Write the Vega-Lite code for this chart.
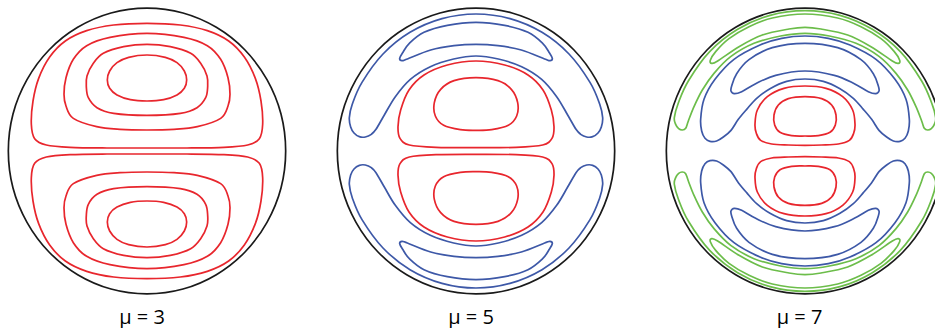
{
"$schema": "https://vega.github.io/schema/vega-lite/v6.json",
"padding": 0,
"background": "white",
"spacing": 35,
"datasets": {
"m3": [
{"c":"O","k":"o","x":416,"y":0},{"c":"O","k":"o","x":402,"y":111},{"c":"O","k":"o","x":360,"y":214},{"c":"O","k":"o","x":294,"y":303},{"c":"O","k":"o","x":208,"y":371},{"c":"O","k":"o","x":108,"y":414},{"c":"O","k":"o","x":0,"y":428.5},{"c":"O","k":"o","x":-108,"y":414},{"c":"O","k":"o","x":-208,"y":371},{"c":"O","k":"o","x":-294,"y":303},{"c":"O","k":"o","x":-360,"y":214},{"c":"O","k":"o","x":-402,"y":111},{"c":"O","k":"o","x":-416,"y":0},{"c":"O","k":"o","x":-402,"y":-111},{"c":"O","k":"o","x":-360,"y":-214},{"c":"O","k":"o","x":-294,"y":-303},{"c":"O","k":"o","x":-208,"y":-371},{"c":"O","k":"o","x":-108,"y":-414},{"c":"O","k":"o","x":0,"y":-428.5},{"c":"O","k":"o","x":108,"y":-414},{"c":"O","k":"o","x":208,"y":-371},{"c":"O","k":"o","x":294,"y":-303},{"c":"O","k":"o","x":360,"y":-214},{"c":"O","k":"o","x":402,"y":-111},
{"c":"A1","k":"r","x":0,"y":383},{"c":"A1","k":"r","x":-100,"y":378},{"c":"A1","k":"r","x":-181,"y":361},{"c":"A1","k":"r","x":-245,"y":330},{"c":"A1","k":"r","x":-292,"y":282},{"c":"A1","k":"r","x":-325,"y":218},{"c":"A1","k":"r","x":-342,"y":150},{"c":"A1","k":"r","x":-347,"y":80},{"c":"A1","k":"r","x":-337,"y":37},{"c":"A1","k":"r","x":-302,"y":18},{"c":"A1","k":"r","x":-231,"y":11},{"c":"A1","k":"r","x":-120,"y":9},{"c":"A1","k":"r","x":0,"y":9},{"c":"A1","k":"r","x":120,"y":9},{"c":"A1","k":"r","x":231,"y":11},{"c":"A1","k":"r","x":302,"y":18},{"c":"A1","k":"r","x":337,"y":37},{"c":"A1","k":"r","x":347,"y":80},{"c":"A1","k":"r","x":342,"y":150},{"c":"A1","k":"r","x":325,"y":218},{"c":"A1","k":"r","x":292,"y":282},{"c":"A1","k":"r","x":245,"y":330},{"c":"A1","k":"r","x":181,"y":361},{"c":"A1","k":"r","x":100,"y":378},
{"c":"A2","k":"r","x":0,"y":-383},{"c":"A2","k":"r","x":-100,"y":-378},{"c":"A2","k":"r","x":-181,"y":-361},{"c":"A2","k":"r","x":-245,"y":-330},{"c":"A2","k":"r","x":-292,"y":-282},{"c":"A2","k":"r","x":-325,"y":-218},{"c":"A2","k":"r","x":-342,"y":-150},{"c":"A2","k":"r","x":-347,"y":-80},{"c":"A2","k":"r","x":-337,"y":-37},{"c":"A2","k":"r","x":-302,"y":-18},{"c":"A2","k":"r","x":-231,"y":-11},{"c":"A2","k":"r","x":-120,"y":-9},{"c":"A2","k":"r","x":0,"y":-9},{"c":"A2","k":"r","x":120,"y":-9},{"c":"A2","k":"r","x":231,"y":-11},{"c":"A2","k":"r","x":302,"y":-18},{"c":"A2","k":"r","x":337,"y":-37},{"c":"A2","k":"r","x":347,"y":-80},{"c":"A2","k":"r","x":342,"y":-150},{"c":"A2","k":"r","x":325,"y":-218},{"c":"A2","k":"r","x":292,"y":-282},{"c":"A2","k":"r","x":245,"y":-330},{"c":"A2","k":"r","x":181,"y":-361},{"c":"A2","k":"r","x":100,"y":-378},
{"c":"B1","k":"r","x":0,"y":353},{"c":"B1","k":"r","x":-111,"y":341},{"c":"B1","k":"r","x":-181,"y":316},{"c":"B1","k":"r","x":-221,"y":275},{"c":"B1","k":"r","x":-243,"y":220},{"c":"B1","k":"r","x":-249,"y":170},{"c":"B1","k":"r","x":-243,"y":135},{"c":"B1","k":"r","x":-221,"y":98},{"c":"B1","k":"r","x":-151,"y":73},{"c":"B1","k":"r","x":-81,"y":65},{"c":"B1","k":"r","x":0,"y":63},{"c":"B1","k":"r","x":81,"y":65},{"c":"B1","k":"r","x":151,"y":73},{"c":"B1","k":"r","x":221,"y":98},{"c":"B1","k":"r","x":243,"y":135},{"c":"B1","k":"r","x":249,"y":170},{"c":"B1","k":"r","x":243,"y":220},{"c":"B1","k":"r","x":221,"y":275},{"c":"B1","k":"r","x":181,"y":316},{"c":"B1","k":"r","x":111,"y":341},
{"c":"B2","k":"r","x":0,"y":-353},{"c":"B2","k":"r","x":-111,"y":-341},{"c":"B2","k":"r","x":-181,"y":-316},{"c":"B2","k":"r","x":-221,"y":-275},{"c":"B2","k":"r","x":-243,"y":-220},{"c":"B2","k":"r","x":-249,"y":-170},{"c":"B2","k":"r","x":-243,"y":-135},{"c":"B2","k":"r","x":-221,"y":-98},{"c":"B2","k":"r","x":-151,"y":-73},{"c":"B2","k":"r","x":-81,"y":-65},{"c":"B2","k":"r","x":0,"y":-63},{"c":"B2","k":"r","x":81,"y":-65},{"c":"B2","k":"r","x":151,"y":-73},{"c":"B2","k":"r","x":221,"y":-98},{"c":"B2","k":"r","x":243,"y":-135},{"c":"B2","k":"r","x":249,"y":-170},{"c":"B2","k":"r","x":243,"y":-220},{"c":"B2","k":"r","x":221,"y":-275},{"c":"B2","k":"r","x":181,"y":-316},{"c":"B2","k":"r","x":111,"y":-341},
{"c":"C1","k":"r","x":0,"y":320},{"c":"C1","k":"r","x":-70,"y":313},{"c":"C1","k":"r","x":-131,"y":293},{"c":"C1","k":"r","x":-161,"y":263},{"c":"C1","k":"r","x":-180,"y":225},{"c":"C1","k":"r","x":-182,"y":193},{"c":"C1","k":"r","x":-176,"y":160},{"c":"C1","k":"r","x":-150,"y":130},{"c":"C1","k":"r","x":-100,"y":113},{"c":"C1","k":"r","x":0,"y":107},{"c":"C1","k":"r","x":100,"y":113},{"c":"C1","k":"r","x":150,"y":130},{"c":"C1","k":"r","x":176,"y":160},{"c":"C1","k":"r","x":182,"y":193},{"c":"C1","k":"r","x":180,"y":225},{"c":"C1","k":"r","x":161,"y":263},{"c":"C1","k":"r","x":131,"y":293},{"c":"C1","k":"r","x":70,"y":313},
{"c":"C2","k":"r","x":0,"y":-320},{"c":"C2","k":"r","x":-70,"y":-313},{"c":"C2","k":"r","x":-131,"y":-293},{"c":"C2","k":"r","x":-161,"y":-263},{"c":"C2","k":"r","x":-180,"y":-225},{"c":"C2","k":"r","x":-182,"y":-193},{"c":"C2","k":"r","x":-176,"y":-160},{"c":"C2","k":"r","x":-150,"y":-130},{"c":"C2","k":"r","x":-100,"y":-113},{"c":"C2","k":"r","x":0,"y":-107},{"c":"C2","k":"r","x":100,"y":-113},{"c":"C2","k":"r","x":150,"y":-130},{"c":"C2","k":"r","x":176,"y":-160},{"c":"C2","k":"r","x":182,"y":-193},{"c":"C2","k":"r","x":180,"y":-225},{"c":"C2","k":"r","x":161,"y":-263},{"c":"C2","k":"r","x":131,"y":-293},{"c":"C2","k":"r","x":70,"y":-313},
{"c":"D1","k":"r","x":0,"y":288},{"c":"D1","k":"r","x":-55,"y":281},{"c":"D1","k":"r","x":-90,"y":265},{"c":"D1","k":"r","x":-112,"y":240},{"c":"D1","k":"r","x":-119,"y":213},{"c":"D1","k":"r","x":-112,"y":188},{"c":"D1","k":"r","x":-90,"y":168},{"c":"D1","k":"r","x":-50,"y":154},{"c":"D1","k":"r","x":0,"y":150},{"c":"D1","k":"r","x":50,"y":154},{"c":"D1","k":"r","x":90,"y":168},{"c":"D1","k":"r","x":112,"y":188},{"c":"D1","k":"r","x":119,"y":213},{"c":"D1","k":"r","x":112,"y":240},{"c":"D1","k":"r","x":90,"y":265},{"c":"D1","k":"r","x":55,"y":281},
{"c":"D2","k":"r","x":0,"y":-288},{"c":"D2","k":"r","x":-55,"y":-281},{"c":"D2","k":"r","x":-90,"y":-265},{"c":"D2","k":"r","x":-112,"y":-240},{"c":"D2","k":"r","x":-119,"y":-213},{"c":"D2","k":"r","x":-112,"y":-188},{"c":"D2","k":"r","x":-90,"y":-168},{"c":"D2","k":"r","x":-50,"y":-154},{"c":"D2","k":"r","x":0,"y":-150},{"c":"D2","k":"r","x":50,"y":-154},{"c":"D2","k":"r","x":90,"y":-168},{"c":"D2","k":"r","x":112,"y":-188},{"c":"D2","k":"r","x":119,"y":-213},{"c":"D2","k":"r","x":112,"y":-240},{"c":"D2","k":"r","x":90,"y":-265},{"c":"D2","k":"r","x":55,"y":-281}
],
"m5": [
{"c":"O","k":"o","x":416,"y":0},{"c":"O","k":"o","x":402,"y":111},{"c":"O","k":"o","x":360,"y":214},{"c":"O","k":"o","x":294,"y":303},{"c":"O","k":"o","x":208,"y":371},{"c":"O","k":"o","x":108,"y":414},{"c":"O","k":"o","x":0,"y":428.5},{"c":"O","k":"o","x":-108,"y":414},{"c":"O","k":"o","x":-208,"y":371},{"c":"O","k":"o","x":-294,"y":303},{"c":"O","k":"o","x":-360,"y":214},{"c":"O","k":"o","x":-402,"y":111},{"c":"O","k":"o","x":-416,"y":0},{"c":"O","k":"o","x":-402,"y":-111},{"c":"O","k":"o","x":-360,"y":-214},{"c":"O","k":"o","x":-294,"y":-303},{"c":"O","k":"o","x":-208,"y":-371},{"c":"O","k":"o","x":-108,"y":-414},{"c":"O","k":"o","x":0,"y":-428.5},{"c":"O","k":"o","x":108,"y":-414},{"c":"O","k":"o","x":208,"y":-371},{"c":"O","k":"o","x":294,"y":-303},{"c":"O","k":"o","x":360,"y":-214},{"c":"O","k":"o","x":402,"y":-111},
{"c":"R1","k":"r","x":0,"y":270},{"c":"R1","k":"r","x":-86,"y":258},{"c":"R1","k":"r","x":-156,"y":228},{"c":"R1","k":"r","x":-201,"y":183},{"c":"R1","k":"r","x":-226,"y":123},{"c":"R1","k":"r","x":-234,"y":73},{"c":"R1","k":"r","x":-228,"y":38},{"c":"R1","k":"r","x":-200,"y":18},{"c":"R1","k":"r","x":-120,"y":11},{"c":"R1","k":"r","x":0,"y":10},{"c":"R1","k":"r","x":120,"y":11},{"c":"R1","k":"r","x":200,"y":18},{"c":"R1","k":"r","x":228,"y":38},{"c":"R1","k":"r","x":234,"y":73},{"c":"R1","k":"r","x":226,"y":123},{"c":"R1","k":"r","x":201,"y":183},{"c":"R1","k":"r","x":156,"y":228},{"c":"R1","k":"r","x":86,"y":258},
{"c":"R2","k":"r","x":0,"y":-270},{"c":"R2","k":"r","x":-86,"y":-258},{"c":"R2","k":"r","x":-156,"y":-228},{"c":"R2","k":"r","x":-201,"y":-183},{"c":"R2","k":"r","x":-226,"y":-123},{"c":"R2","k":"r","x":-234,"y":-73},{"c":"R2","k":"r","x":-228,"y":-38},{"c":"R2","k":"r","x":-200,"y":-18},{"c":"R2","k":"r","x":-120,"y":-11},{"c":"R2","k":"r","x":0,"y":-10},{"c":"R2","k":"r","x":120,"y":-11},{"c":"R2","k":"r","x":200,"y":-18},{"c":"R2","k":"r","x":228,"y":-38},{"c":"R2","k":"r","x":234,"y":-73},{"c":"R2","k":"r","x":226,"y":-123},{"c":"R2","k":"r","x":201,"y":-183},{"c":"R2","k":"r","x":156,"y":-228},{"c":"R2","k":"r","x":86,"y":-258},
{"c":"S1","k":"r","x":0,"y":220},{"c":"S1","k":"r","x":-66,"y":211},{"c":"S1","k":"r","x":-106,"y":185},{"c":"S1","k":"r","x":-125,"y":145},{"c":"S1","k":"r","x":-122,"y":105},{"c":"S1","k":"r","x":-97,"y":77},{"c":"S1","k":"r","x":-47,"y":64},{"c":"S1","k":"r","x":0,"y":62},{"c":"S1","k":"r","x":47,"y":64},{"c":"S1","k":"r","x":97,"y":77},{"c":"S1","k":"r","x":122,"y":105},{"c":"S1","k":"r","x":125,"y":145},{"c":"S1","k":"r","x":106,"y":185},{"c":"S1","k":"r","x":66,"y":211},
{"c":"S2","k":"r","x":0,"y":-220},{"c":"S2","k":"r","x":-66,"y":-211},{"c":"S2","k":"r","x":-106,"y":-185},{"c":"S2","k":"r","x":-125,"y":-145},{"c":"S2","k":"r","x":-122,"y":-105},{"c":"S2","k":"r","x":-97,"y":-77},{"c":"S2","k":"r","x":-47,"y":-64},{"c":"S2","k":"r","x":0,"y":-62},{"c":"S2","k":"r","x":47,"y":-64},{"c":"S2","k":"r","x":97,"y":-77},{"c":"S2","k":"r","x":122,"y":-105},{"c":"S2","k":"r","x":125,"y":-145},{"c":"S2","k":"r","x":106,"y":-185},{"c":"S2","k":"r","x":66,"y":-211},
{"c":"K1","k":"b","x":0,"y":386},{"c":"K1","k":"b","x":-86,"y":377},{"c":"K1","k":"b","x":-156,"y":356},{"c":"K1","k":"b","x":-200,"y":323},{"c":"K1","k":"b","x":-220,"y":295},{"c":"K1","k":"b","x":-229,"y":278},{"c":"K1","k":"b","x":-222,"y":271},{"c":"K1","k":"b","x":-206,"y":276},{"c":"K1","k":"b","x":-136,"y":303},{"c":"K1","k":"b","x":-66,"y":316},{"c":"K1","k":"b","x":0,"y":320},{"c":"K1","k":"b","x":66,"y":316},{"c":"K1","k":"b","x":136,"y":303},{"c":"K1","k":"b","x":206,"y":276},{"c":"K1","k":"b","x":222,"y":271},{"c":"K1","k":"b","x":229,"y":278},{"c":"K1","k":"b","x":220,"y":295},{"c":"K1","k":"b","x":200,"y":323},{"c":"K1","k":"b","x":156,"y":356},{"c":"K1","k":"b","x":86,"y":377},
{"c":"K2","k":"b","x":0,"y":-386},{"c":"K2","k":"b","x":-86,"y":-377},{"c":"K2","k":"b","x":-156,"y":-356},{"c":"K2","k":"b","x":-200,"y":-323},{"c":"K2","k":"b","x":-220,"y":-295},{"c":"K2","k":"b","x":-229,"y":-278},{"c":"K2","k":"b","x":-222,"y":-271},{"c":"K2","k":"b","x":-206,"y":-276},{"c":"K2","k":"b","x":-136,"y":-303},{"c":"K2","k":"b","x":-66,"y":-316},{"c":"K2","k":"b","x":0,"y":-320},{"c":"K2","k":"b","x":66,"y":-316},{"c":"K2","k":"b","x":136,"y":-303},{"c":"K2","k":"b","x":206,"y":-276},{"c":"K2","k":"b","x":222,"y":-271},{"c":"K2","k":"b","x":229,"y":-278},{"c":"K2","k":"b","x":220,"y":-295},{"c":"K2","k":"b","x":200,"y":-323},{"c":"K2","k":"b","x":156,"y":-356},{"c":"K2","k":"b","x":86,"y":-377},
{"c":"H1","k":"b","x":0,"y":411},{"c":"H1","k":"b","x":-102,"y":397},{"c":"H1","k":"b","x":-198,"y":356},{"c":"H1","k":"b","x":-279,"y":291},{"c":"H1","k":"b","x":-342,"y":206},{"c":"H1","k":"b","x":-371,"y":141},{"c":"H1","k":"b","x":-380,"y":100},{"c":"H1","k":"b","x":-376,"y":72},{"c":"H1","k":"b","x":-366,"y":54},{"c":"H1","k":"b","x":-350,"y":43},{"c":"H1","k":"b","x":-332,"y":42},{"c":"H1","k":"b","x":-314,"y":50},{"c":"H1","k":"b","x":-300,"y":65},{"c":"H1","k":"b","x":-275,"y":108},{"c":"H1","k":"b","x":-242,"y":163},{"c":"H1","k":"b","x":-197,"y":215},{"c":"H1","k":"b","x":-137,"y":253},{"c":"H1","k":"b","x":-67,"y":276},{"c":"H1","k":"b","x":0,"y":285},{"c":"H1","k":"b","x":67,"y":276},{"c":"H1","k":"b","x":137,"y":253},{"c":"H1","k":"b","x":197,"y":215},{"c":"H1","k":"b","x":242,"y":163},{"c":"H1","k":"b","x":275,"y":108},{"c":"H1","k":"b","x":300,"y":65},{"c":"H1","k":"b","x":314,"y":50},{"c":"H1","k":"b","x":332,"y":42},{"c":"H1","k":"b","x":350,"y":43},{"c":"H1","k":"b","x":366,"y":54},{"c":"H1","k":"b","x":376,"y":72},{"c":"H1","k":"b","x":380,"y":100},{"c":"H1","k":"b","x":371,"y":141},{"c":"H1","k":"b","x":342,"y":206},{"c":"H1","k":"b","x":279,"y":291},{"c":"H1","k":"b","x":198,"y":356},{"c":"H1","k":"b","x":102,"y":397},
{"c":"H2","k":"b","x":0,"y":-411},{"c":"H2","k":"b","x":-102,"y":-397},{"c":"H2","k":"b","x":-198,"y":-356},{"c":"H2","k":"b","x":-279,"y":-291},{"c":"H2","k":"b","x":-342,"y":-206},{"c":"H2","k":"b","x":-371,"y":-141},{"c":"H2","k":"b","x":-380,"y":-100},{"c":"H2","k":"b","x":-376,"y":-72},{"c":"H2","k":"b","x":-366,"y":-54},{"c":"H2","k":"b","x":-350,"y":-43},{"c":"H2","k":"b","x":-332,"y":-42},{"c":"H2","k":"b","x":-314,"y":-50},{"c":"H2","k":"b","x":-300,"y":-65},{"c":"H2","k":"b","x":-275,"y":-108},{"c":"H2","k":"b","x":-242,"y":-163},{"c":"H2","k":"b","x":-197,"y":-215},{"c":"H2","k":"b","x":-137,"y":-253},{"c":"H2","k":"b","x":-67,"y":-276},{"c":"H2","k":"b","x":0,"y":-285},{"c":"H2","k":"b","x":67,"y":-276},{"c":"H2","k":"b","x":137,"y":-253},{"c":"H2","k":"b","x":197,"y":-215},{"c":"H2","k":"b","x":242,"y":-163},{"c":"H2","k":"b","x":275,"y":-108},{"c":"H2","k":"b","x":300,"y":-65},{"c":"H2","k":"b","x":314,"y":-50},{"c":"H2","k":"b","x":332,"y":-42},{"c":"H2","k":"b","x":350,"y":-43},{"c":"H2","k":"b","x":366,"y":-54},{"c":"H2","k":"b","x":376,"y":-72},{"c":"H2","k":"b","x":380,"y":-100},{"c":"H2","k":"b","x":371,"y":-141},{"c":"H2","k":"b","x":342,"y":-206},{"c":"H2","k":"b","x":279,"y":-291},{"c":"H2","k":"b","x":198,"y":-356},{"c":"H2","k":"b","x":102,"y":-397}
],
"m7": [
{"c":"O","k":"o","x":416,"y":0},{"c":"O","k":"o","x":402,"y":111},{"c":"O","k":"o","x":360,"y":214},{"c":"O","k":"o","x":294,"y":303},{"c":"O","k":"o","x":208,"y":371},{"c":"O","k":"o","x":108,"y":414},{"c":"O","k":"o","x":0,"y":428.5},{"c":"O","k":"o","x":-108,"y":414},{"c":"O","k":"o","x":-208,"y":371},{"c":"O","k":"o","x":-294,"y":303},{"c":"O","k":"o","x":-360,"y":214},{"c":"O","k":"o","x":-402,"y":111},{"c":"O","k":"o","x":-416,"y":0},{"c":"O","k":"o","x":-402,"y":-111},{"c":"O","k":"o","x":-360,"y":-214},{"c":"O","k":"o","x":-294,"y":-303},{"c":"O","k":"o","x":-208,"y":-371},{"c":"O","k":"o","x":-108,"y":-414},{"c":"O","k":"o","x":0,"y":-428.5},{"c":"O","k":"o","x":108,"y":-414},{"c":"O","k":"o","x":208,"y":-371},{"c":"O","k":"o","x":294,"y":-303},{"c":"O","k":"o","x":360,"y":-214},{"c":"O","k":"o","x":402,"y":-111},
{"c":"R1","k":"r","x":0,"y":195},{"c":"R1","k":"r","x":-63,"y":188},{"c":"R1","k":"r","x":-113,"y":163},{"c":"R1","k":"r","x":-143,"y":123},{"c":"R1","k":"r","x":-150,"y":80},{"c":"R1","k":"r","x":-146,"y":53},{"c":"R1","k":"r","x":-133,"y":32},{"c":"R1","k":"r","x":-100,"y":21},{"c":"R1","k":"r","x":-50,"y":18},{"c":"R1","k":"r","x":0,"y":17},{"c":"R1","k":"r","x":50,"y":18},{"c":"R1","k":"r","x":100,"y":21},{"c":"R1","k":"r","x":133,"y":32},{"c":"R1","k":"r","x":146,"y":53},{"c":"R1","k":"r","x":150,"y":80},{"c":"R1","k":"r","x":143,"y":123},{"c":"R1","k":"r","x":113,"y":163},{"c":"R1","k":"r","x":63,"y":188},
{"c":"R2","k":"r","x":0,"y":-195},{"c":"R2","k":"r","x":-63,"y":-188},{"c":"R2","k":"r","x":-113,"y":-163},{"c":"R2","k":"r","x":-143,"y":-123},{"c":"R2","k":"r","x":-150,"y":-80},{"c":"R2","k":"r","x":-146,"y":-53},{"c":"R2","k":"r","x":-133,"y":-32},{"c":"R2","k":"r","x":-100,"y":-21},{"c":"R2","k":"r","x":-50,"y":-18},{"c":"R2","k":"r","x":0,"y":-17},{"c":"R2","k":"r","x":50,"y":-18},{"c":"R2","k":"r","x":100,"y":-21},{"c":"R2","k":"r","x":133,"y":-32},{"c":"R2","k":"r","x":146,"y":-53},{"c":"R2","k":"r","x":150,"y":-80},{"c":"R2","k":"r","x":143,"y":-123},{"c":"R2","k":"r","x":113,"y":-163},{"c":"R2","k":"r","x":63,"y":-188},
{"c":"S1","k":"r","x":0,"y":163},{"c":"S1","k":"r","x":-50,"y":157},{"c":"S1","k":"r","x":-80,"y":138},{"c":"S1","k":"r","x":-93,"y":108},{"c":"S1","k":"r","x":-91,"y":78},{"c":"S1","k":"r","x":-75,"y":56},{"c":"S1","k":"r","x":-40,"y":46},{"c":"S1","k":"r","x":0,"y":45},{"c":"S1","k":"r","x":40,"y":46},{"c":"S1","k":"r","x":75,"y":56},{"c":"S1","k":"r","x":91,"y":78},{"c":"S1","k":"r","x":93,"y":108},{"c":"S1","k":"r","x":80,"y":138},{"c":"S1","k":"r","x":50,"y":157},
{"c":"S2","k":"r","x":0,"y":-163},{"c":"S2","k":"r","x":-50,"y":-157},{"c":"S2","k":"r","x":-80,"y":-138},{"c":"S2","k":"r","x":-93,"y":-108},{"c":"S2","k":"r","x":-91,"y":-78},{"c":"S2","k":"r","x":-75,"y":-56},{"c":"S2","k":"r","x":-40,"y":-46},{"c":"S2","k":"r","x":0,"y":-45},{"c":"S2","k":"r","x":40,"y":-46},{"c":"S2","k":"r","x":75,"y":-56},{"c":"S2","k":"r","x":91,"y":-78},{"c":"S2","k":"r","x":93,"y":-108},{"c":"S2","k":"r","x":80,"y":-138},{"c":"S2","k":"r","x":50,"y":-157},
{"c":"K1","k":"b","x":0,"y":323},{"c":"K1","k":"b","x":-98,"y":310},{"c":"K1","k":"b","x":-168,"y":274},{"c":"K1","k":"b","x":-205,"y":232},{"c":"K1","k":"b","x":-220,"y":195},{"c":"K1","k":"b","x":-222,"y":180},{"c":"K1","k":"b","x":-212,"y":172},{"c":"K1","k":"b","x":-190,"y":178},{"c":"K1","k":"b","x":-148,"y":202},{"c":"K1","k":"b","x":-88,"y":227},{"c":"K1","k":"b","x":0,"y":240},{"c":"K1","k":"b","x":88,"y":227},{"c":"K1","k":"b","x":148,"y":202},{"c":"K1","k":"b","x":190,"y":178},{"c":"K1","k":"b","x":212,"y":172},{"c":"K1","k":"b","x":222,"y":180},{"c":"K1","k":"b","x":220,"y":195},{"c":"K1","k":"b","x":205,"y":232},{"c":"K1","k":"b","x":168,"y":274},{"c":"K1","k":"b","x":98,"y":310},
{"c":"K2","k":"b","x":0,"y":-323},{"c":"K2","k":"b","x":-98,"y":-310},{"c":"K2","k":"b","x":-168,"y":-274},{"c":"K2","k":"b","x":-205,"y":-232},{"c":"K2","k":"b","x":-220,"y":-195},{"c":"K2","k":"b","x":-222,"y":-180},{"c":"K2","k":"b","x":-212,"y":-172},{"c":"K2","k":"b","x":-190,"y":-178},{"c":"K2","k":"b","x":-148,"y":-202},{"c":"K2","k":"b","x":-88,"y":-227},{"c":"K2","k":"b","x":0,"y":-240},{"c":"K2","k":"b","x":88,"y":-227},{"c":"K2","k":"b","x":148,"y":-202},{"c":"K2","k":"b","x":190,"y":-178},{"c":"K2","k":"b","x":212,"y":-172},{"c":"K2","k":"b","x":222,"y":-180},{"c":"K2","k":"b","x":220,"y":-195},{"c":"K2","k":"b","x":205,"y":-232},{"c":"K2","k":"b","x":168,"y":-274},{"c":"K2","k":"b","x":98,"y":-310},
{"c":"H1","k":"b","x":0,"y":345},{"c":"H1","k":"b","x":-70,"y":338},{"c":"H1","k":"b","x":-135,"y":318},{"c":"H1","k":"b","x":-213,"y":275},{"c":"H1","k":"b","x":-270,"y":215},{"c":"H1","k":"b","x":-303,"y":155},{"c":"H1","k":"b","x":-313,"y":95},{"c":"H1","k":"b","x":-310,"y":60},{"c":"H1","k":"b","x":-300,"y":38},{"c":"H1","k":"b","x":-285,"y":29},{"c":"H1","k":"b","x":-265,"y":30},{"c":"H1","k":"b","x":-245,"y":42},{"c":"H1","k":"b","x":-222,"y":62},{"c":"H1","k":"b","x":-200,"y":95},{"c":"H1","k":"b","x":-175,"y":125},{"c":"H1","k":"b","x":-145,"y":158},{"c":"H1","k":"b","x":-105,"y":187},{"c":"H1","k":"b","x":-55,"y":209},{"c":"H1","k":"b","x":0,"y":216},{"c":"H1","k":"b","x":55,"y":209},{"c":"H1","k":"b","x":105,"y":187},{"c":"H1","k":"b","x":145,"y":158},{"c":"H1","k":"b","x":175,"y":125},{"c":"H1","k":"b","x":200,"y":95},{"c":"H1","k":"b","x":222,"y":62},{"c":"H1","k":"b","x":245,"y":42},{"c":"H1","k":"b","x":265,"y":30},{"c":"H1","k":"b","x":285,"y":29},{"c":"H1","k":"b","x":300,"y":38},{"c":"H1","k":"b","x":310,"y":60},{"c":"H1","k":"b","x":313,"y":95},{"c":"H1","k":"b","x":303,"y":155},{"c":"H1","k":"b","x":270,"y":215},{"c":"H1","k":"b","x":213,"y":275},{"c":"H1","k":"b","x":135,"y":318},{"c":"H1","k":"b","x":70,"y":338},
{"c":"H2","k":"b","x":0,"y":-345},{"c":"H2","k":"b","x":-70,"y":-338},{"c":"H2","k":"b","x":-135,"y":-318},{"c":"H2","k":"b","x":-213,"y":-275},{"c":"H2","k":"b","x":-270,"y":-215},{"c":"H2","k":"b","x":-303,"y":-155},{"c":"H2","k":"b","x":-313,"y":-95},{"c":"H2","k":"b","x":-310,"y":-60},{"c":"H2","k":"b","x":-300,"y":-38},{"c":"H2","k":"b","x":-285,"y":-29},{"c":"H2","k":"b","x":-265,"y":-30},{"c":"H2","k":"b","x":-245,"y":-42},{"c":"H2","k":"b","x":-222,"y":-62},{"c":"H2","k":"b","x":-200,"y":-95},{"c":"H2","k":"b","x":-175,"y":-125},{"c":"H2","k":"b","x":-145,"y":-158},{"c":"H2","k":"b","x":-105,"y":-187},{"c":"H2","k":"b","x":-55,"y":-209},{"c":"H2","k":"b","x":0,"y":-216},{"c":"H2","k":"b","x":55,"y":-209},{"c":"H2","k":"b","x":105,"y":-187},{"c":"H2","k":"b","x":145,"y":-158},{"c":"H2","k":"b","x":175,"y":-125},{"c":"H2","k":"b","x":200,"y":-95},{"c":"H2","k":"b","x":222,"y":-62},{"c":"H2","k":"b","x":245,"y":-42},{"c":"H2","k":"b","x":265,"y":-30},{"c":"H2","k":"b","x":285,"y":-29},{"c":"H2","k":"b","x":300,"y":-38},{"c":"H2","k":"b","x":310,"y":-60},{"c":"H2","k":"b","x":313,"y":-95},{"c":"H2","k":"b","x":303,"y":-155},{"c":"H2","k":"b","x":270,"y":-215},{"c":"H2","k":"b","x":213,"y":-275},{"c":"H2","k":"b","x":135,"y":-318},{"c":"H2","k":"b","x":70,"y":-338},
{"c":"G1","k":"g","x":0,"y":411},{"c":"G1","k":"g","x":-98,"y":399},{"c":"G1","k":"g","x":-168,"y":373},{"c":"G1","k":"g","x":-228,"y":337},{"c":"G1","k":"g","x":-268,"y":298},{"c":"G1","k":"g","x":-284,"y":272},{"c":"G1","k":"g","x":-280,"y":263},{"c":"G1","k":"g","x":-262,"y":270},{"c":"G1","k":"g","x":-198,"y":313},{"c":"G1","k":"g","x":-128,"y":348},{"c":"G1","k":"g","x":-48,"y":366},{"c":"G1","k":"g","x":0,"y":371},{"c":"G1","k":"g","x":48,"y":366},{"c":"G1","k":"g","x":128,"y":348},{"c":"G1","k":"g","x":198,"y":313},{"c":"G1","k":"g","x":262,"y":270},{"c":"G1","k":"g","x":280,"y":263},{"c":"G1","k":"g","x":284,"y":272},{"c":"G1","k":"g","x":268,"y":298},{"c":"G1","k":"g","x":228,"y":337},{"c":"G1","k":"g","x":168,"y":373},{"c":"G1","k":"g","x":98,"y":399},
{"c":"G2","k":"g","x":0,"y":-411},{"c":"G2","k":"g","x":-98,"y":-399},{"c":"G2","k":"g","x":-168,"y":-373},{"c":"G2","k":"g","x":-228,"y":-337},{"c":"G2","k":"g","x":-268,"y":-298},{"c":"G2","k":"g","x":-284,"y":-272},{"c":"G2","k":"g","x":-280,"y":-263},{"c":"G2","k":"g","x":-262,"y":-270},{"c":"G2","k":"g","x":-198,"y":-313},{"c":"G2","k":"g","x":-128,"y":-348},{"c":"G2","k":"g","x":-48,"y":-366},{"c":"G2","k":"g","x":0,"y":-371},{"c":"G2","k":"g","x":48,"y":-366},{"c":"G2","k":"g","x":128,"y":-348},{"c":"G2","k":"g","x":198,"y":-313},{"c":"G2","k":"g","x":262,"y":-270},{"c":"G2","k":"g","x":280,"y":-263},{"c":"G2","k":"g","x":284,"y":-272},{"c":"G2","k":"g","x":268,"y":-298},{"c":"G2","k":"g","x":228,"y":-337},{"c":"G2","k":"g","x":168,"y":-373},{"c":"G2","k":"g","x":98,"y":-399},
{"c":"Q1","k":"g","x":0,"y":421},{"c":"Q1","k":"g","x":-105,"y":407},{"c":"Q1","k":"g","x":-202,"y":365},{"c":"Q1","k":"g","x":-286,"y":298},{"c":"Q1","k":"g","x":-350,"y":210},{"c":"Q1","k":"g","x":-380,"y":144},{"c":"Q1","k":"g","x":-392,"y":100},{"c":"Q1","k":"g","x":-388,"y":80},{"c":"Q1","k":"g","x":-379,"y":67},{"c":"Q1","k":"g","x":-368,"y":63},{"c":"Q1","k":"g","x":-358,"y":68},{"c":"Q1","k":"g","x":-350,"y":90},{"c":"Q1","k":"g","x":-333,"y":133},{"c":"Q1","k":"g","x":-308,"y":183},{"c":"Q1","k":"g","x":-273,"y":233},{"c":"Q1","k":"g","x":-223,"y":283},{"c":"Q1","k":"g","x":-153,"y":323},{"c":"Q1","k":"g","x":-73,"y":345},{"c":"Q1","k":"g","x":0,"y":353},{"c":"Q1","k":"g","x":73,"y":345},{"c":"Q1","k":"g","x":153,"y":323},{"c":"Q1","k":"g","x":223,"y":283},{"c":"Q1","k":"g","x":273,"y":233},{"c":"Q1","k":"g","x":308,"y":183},{"c":"Q1","k":"g","x":333,"y":133},{"c":"Q1","k":"g","x":350,"y":90},{"c":"Q1","k":"g","x":358,"y":68},{"c":"Q1","k":"g","x":368,"y":63},{"c":"Q1","k":"g","x":379,"y":67},{"c":"Q1","k":"g","x":388,"y":80},{"c":"Q1","k":"g","x":392,"y":100},{"c":"Q1","k":"g","x":380,"y":144},{"c":"Q1","k":"g","x":350,"y":210},{"c":"Q1","k":"g","x":286,"y":298},{"c":"Q1","k":"g","x":202,"y":365},{"c":"Q1","k":"g","x":105,"y":407},
{"c":"Q2","k":"g","x":0,"y":-421},{"c":"Q2","k":"g","x":-105,"y":-407},{"c":"Q2","k":"g","x":-202,"y":-365},{"c":"Q2","k":"g","x":-286,"y":-298},{"c":"Q2","k":"g","x":-350,"y":-210},{"c":"Q2","k":"g","x":-380,"y":-144},{"c":"Q2","k":"g","x":-392,"y":-100},{"c":"Q2","k":"g","x":-388,"y":-80},{"c":"Q2","k":"g","x":-379,"y":-67},{"c":"Q2","k":"g","x":-368,"y":-63},{"c":"Q2","k":"g","x":-358,"y":-68},{"c":"Q2","k":"g","x":-350,"y":-90},{"c":"Q2","k":"g","x":-333,"y":-133},{"c":"Q2","k":"g","x":-308,"y":-183},{"c":"Q2","k":"g","x":-273,"y":-233},{"c":"Q2","k":"g","x":-223,"y":-283},{"c":"Q2","k":"g","x":-153,"y":-323},{"c":"Q2","k":"g","x":-73,"y":-345},{"c":"Q2","k":"g","x":0,"y":-353},{"c":"Q2","k":"g","x":73,"y":-345},{"c":"Q2","k":"g","x":153,"y":-323},{"c":"Q2","k":"g","x":223,"y":-283},{"c":"Q2","k":"g","x":273,"y":-233},{"c":"Q2","k":"g","x":308,"y":-183},{"c":"Q2","k":"g","x":333,"y":-133},{"c":"Q2","k":"g","x":350,"y":-90},{"c":"Q2","k":"g","x":358,"y":-68},{"c":"Q2","k":"g","x":368,"y":-63},{"c":"Q2","k":"g","x":379,"y":-67},{"c":"Q2","k":"g","x":388,"y":-80},{"c":"Q2","k":"g","x":392,"y":-100},{"c":"Q2","k":"g","x":380,"y":-144},{"c":"Q2","k":"g","x":350,"y":-210},{"c":"Q2","k":"g","x":286,"y":-298},{"c":"Q2","k":"g","x":202,"y":-365},{"c":"Q2","k":"g","x":105,"y":-407}
]
},
"hconcat": [
{
"data": {"name": "m3"},
"width": 294, "height": 302,
"title": {"text": "μ = 3", "orient": "bottom", "dx": -5},
"mark": {"type": "line", "interpolate": "cardinal-closed", "clip": true, "strokeWidth": 1.7},
"encoding": {
"x": {"field": "x", "type": "quantitative", "scale": {"domain": [-441, 441], "nice": false, "zero": false}, "axis": null},
"y": {"field": "y", "type": "quantitative", "scale": {"domain": [-453, 453], "nice": false, "zero": false}, "axis": null},
"detail": {"field": "c", "type": "nominal"},
"order": {"value": null},
"color": {"field": "k", "type": "nominal", "scale": {"domain": ["o", "r", "b", "g"], "range": ["#1a1a1a", "#e8262d", "#3d58a7", "#6cbd4a"]}, "legend": null}
}
},
{
"data": {"name": "m5"},
"width": 294, "height": 302,
"title": {"text": "μ = 5", "orient": "bottom", "dx": -5},
"mark": {"type": "line", "interpolate": "cardinal-closed", "clip": true, "strokeWidth": 1.7},
"encoding": {
"x": {"field": "x", "type": "quantitative", "scale": {"domain": [-441, 441], "nice": false, "zero": false}, "axis": null},
"y": {"field": "y", "type": "quantitative", "scale": {"domain": [-453, 453], "nice": false, "zero": false}, "axis": null},
"detail": {"field": "c", "type": "nominal"},
"order": {"value": null},
"color": {"field": "k", "type": "nominal", "scale": {"domain": ["o", "r", "b", "g"], "range": ["#1a1a1a", "#e8262d", "#3d58a7", "#6cbd4a"]}, "legend": null}
}
},
{
"data": {"name": "m7"},
"width": 277, "height": 302,
"title": {"text": "μ = 7", "orient": "bottom", "dx": 3},
"mark": {"type": "line", "interpolate": "cardinal-closed", "clip": true, "strokeWidth": 1.7},
"encoding": {
"x": {"field": "x", "type": "quantitative", "scale": {"domain": [-441, 390], "nice": false, "zero": false}, "axis": null},
"y": {"field": "y", "type": "quantitative", "scale": {"domain": [-453, 453], "nice": false, "zero": false}, "axis": null},
"detail": {"field": "c", "type": "nominal"},
"order": {"value": null},
"color": {"field": "k", "type": "nominal", "scale": {"domain": ["o", "r", "b", "g"], "range": ["#1a1a1a", "#e8262d", "#3d58a7", "#6cbd4a"]}, "legend": null}
}
}
],
"config": {
"view": {"stroke": null},
"title": {"orient": "bottom", "baseline": "top", "offset": 6, "font": "Open Sans", "fontSize": 20, "fontWeight": "normal", "color": "#000000", "anchor": "middle"}
}
}
